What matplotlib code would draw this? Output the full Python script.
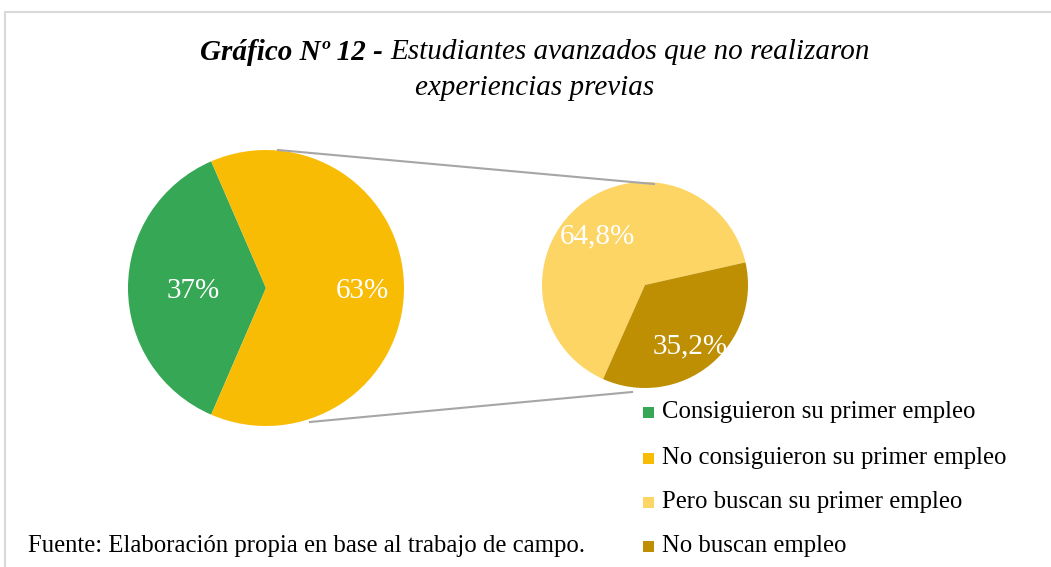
import matplotlib
matplotlib.use("Agg")
import matplotlib.pyplot as plt
from matplotlib.patches import Rectangle

# ---- data ----
main_labels = ["Consiguieron su primer empleo", "No consiguieron su primer empleo"]
main_values = [37, 63]
main_texts = ["37%", "63%"]
sub_labels = ["Pero buscan su primer empleo", "No buscan empleo"]
sub_values = [64.8, 35.2]
sub_texts = ["64,8%", "35,2%"]

main_colors = ["#35A755", "#F9BC05"]
sub_colors = ["#FCD565", "#BE8E03"]

W, H = 1051, 567
fig = plt.figure(figsize=(W / 100, H / 100), dpi=100)
ax = fig.add_axes([0, 0, 1, 1])

def Y(py):
    return H - py

serif = ["Liberation Serif", "DejaVu Serif"]

# main pie
main_center = (266, Y(288))
main_r = 138
start_main = 180 - main_values[0] * 3.6 / 2
ax.pie(main_values, colors=main_colors, startangle=start_main, counterclock=True,
       center=main_center, radius=main_r, frame=True,
       wedgeprops=dict(linewidth=0))

# sub pie
sub_center = (645, Y(285))
sub_r = 103
ax.pie(sub_values, colors=sub_colors, startangle=12.7, counterclock=True,
       center=sub_center, radius=sub_r, frame=True,
       wedgeprops=dict(linewidth=0))

ax.set_xlim(0, W)
ax.set_ylim(0, H)
ax.set_aspect("equal")
ax.axis("off")

# border
ax.add_patch(Rectangle((5, -20), W + 20, Y(12) + 20, fill=False,
                       edgecolor="#D9D9D9", linewidth=1.5, zorder=0))

# connector lines
ax.plot([278, 654], [Y(150), Y(184)], color="#A6A6A6", linewidth=1.5, zorder=1)
ax.plot([310, 632], [Y(422), Y(392)], color="#A6A6A6", linewidth=1.5, zorder=1)

# data labels
lab_kw = dict(color="white", fontsize=21, family=serif, ha="center", va="center", zorder=5)
ax.text(193, Y(291), main_texts[0], **lab_kw)
ax.text(362, Y(291), main_texts[1], **lab_kw)
ax.text(597, Y(236), sub_texts[0], **lab_kw)
ax.text(690, Y(346), sub_texts[1], **lab_kw)

# title
tsize = 21
t1 = ax.text(0, Y(52), "Gráfico Nº 12 - ", fontsize=tsize, family=serif,
             style="italic", weight="bold", ha="left", va="center")
t2 = ax.text(0, Y(52), "Estudiantes avanzados que no realizaron", fontsize=tsize,
             family=serif, style="italic", ha="left", va="center")
fig.canvas.draw()
r = fig.canvas.get_renderer()
w1 = t1.get_window_extent(r).width
w2 = t2.get_window_extent(r).width
x0 = 535 - (w1 + w2) / 2
t1.set_x(x0)
t2.set_x(x0 + w1)
ax.text(535, Y(88), "experiencias previas", fontsize=tsize, family=serif,
        style="italic", ha="center", va="center")

# legend
leg_y = [412, 458, 502, 546]
all_labels = main_labels + sub_labels
all_colors = main_colors + sub_colors
for yy, lab, col in zip(leg_y, all_labels, all_colors):
    ax.add_patch(Rectangle((643, Y(yy) - 5.5), 11, 11, facecolor=col, edgecolor="none"))
    ax.text(662, Y(yy), lab, fontsize=17.8, family=serif, ha="left", va="center")

# footer
ax.text(28, Y(546), "Fuente: Elaboración propia en base al trabajo de campo.",
        fontsize=17.8, family=serif, ha="left", va="center")

fig.savefig("out.png", dpi=100)
